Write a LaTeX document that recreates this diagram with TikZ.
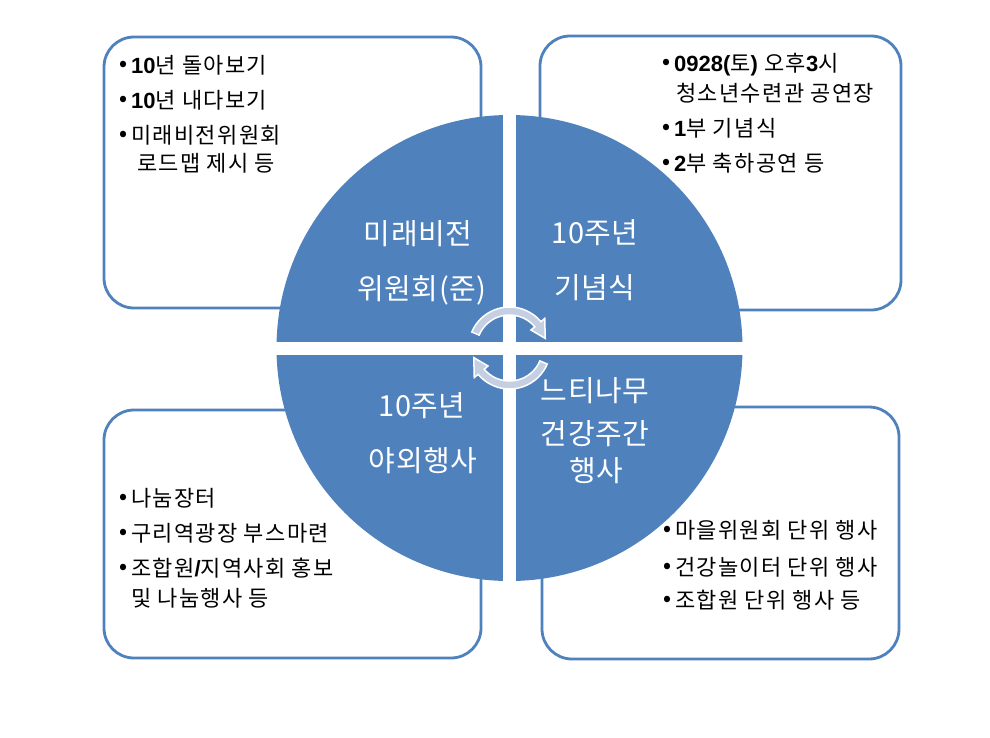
\documentclass[tikz,border=0pt]{standalone}
\usepackage{fontspec}
\newfontfamily\kr{Noto Sans CJK KR}[LetterSpace=6]
\newfontfamily\krq{Noto Sans CJK KR}[LetterSpace=2]
\newfontfamily\numf{Liberation Sans}
\newcommand\dg[1]{{\numf\bfseries #1}}
\definecolor{blu}{RGB}{79,129,189}
\definecolor{arrowfill}{RGB}{196,207,226}
\begin{document}
\begin{tikzpicture}[x=1pt,y=-1pt,
  box/.style={draw=blu, line width=2.8pt, rounded corners=30pt, fill=white, inner sep=0pt},
  item/.style={anchor=west, inner sep=0pt, text height=18.5pt, text depth=2pt, font=\kr\fontsize{22}{26}\selectfont},
  bul/.style={anchor=center, inner sep=0pt, font=\kr\bfseries\fontsize{20}{22}\selectfont},
  qlabel/.style={anchor=center, inner sep=0pt, text height=25pt, text depth=3pt, text=white, font=\krq\fontsize{29}{32}\selectfont},
  cyc/.style={fill=arrowfill, draw=white, line width=1.5pt, line join=miter}]
\fill[white] (0,0) rectangle (990,737);
\useasboundingbox (0,0) rectangle (990,737);

% boxes
\node[box, minimum width=377pt, minimum height=271pt] (tl) at (292.5,172.5) {};
\node[box, minimum width=361pt, minimum height=274pt] (tr) at (720.5,173) {};
\node[box, minimum width=377pt, minimum height=248pt] (bl) at (292.5,534) {};
\node[box, minimum width=357pt, minimum height=252pt] (br) at (720.5,533) {};

% circle quadrants
\coordinate (c) at (509.5,348);
\begin{scope}
  \clip (c) circle (233);
  \fill[blu] (270,100) rectangle (503,342);
  \fill[blu] (516,100) rectangle (750,342);
  \fill[blu] (270,355) rectangle (503,590);
  \fill[blu] (516,355) rectangle (750,590);
\end{scope}

% cycle arrows
\draw[cyc] ([shift={(c)}]203:41) arc[start angle=203, end angle=320, radius=41]
  -- ([shift={(c)}]320:46) -- ([shift={(c)}]345:37) -- ([shift={(c)}]320:28)
  -- ([shift={(c)}]320:33) arc[start angle=320, end angle=203, radius=33] -- cycle;
\draw[cyc] ([shift={(c)}]23:41) arc[start angle=23, end angle=140, radius=41]
  -- ([shift={(c)}]140:46) -- ([shift={(c)}]165:37) -- ([shift={(c)}]140:28)
  -- ([shift={(c)}]140:33) arc[start angle=140, end angle=23, radius=33] -- cycle;

% quadrant labels
\node[qlabel] (q1a) at (418,233) {미래비전};
\node[qlabel] (q1b) at (422,288) {위원회(준)};
\node[qlabel] (q2a) at (595,232) {10주년};
\node[qlabel] (q2b) at (595,287) {기념식};
\node[qlabel] (q3a) at (422,405) {10주년};
\node[qlabel] (q3b) at (423,460) {야외행사};
\node[qlabel] (q4a) at (595,390) {느티나무};
\node[qlabel] (q4b) at (595,433) {건강주간};
\node[qlabel] (q4c) at (596,470) {행사};

% top-left box text
\node[bul] (tlb1) at (123,66) {•};
\node[item] (tl1) at (131,65) {\dg{10}년 돌아보기};
\node[bul] (tlb2) at (123,101) {•};
\node[item] (tl2) at (131,100) {\dg{10}년 내다보기};
\node[bul] (tlb3) at (123,136) {•};
\node[item] (tl3) at (131,135) {미래비전위원회};
\node[item] (tl4) at (137,163) {로드맵 제시 등};

% top-right box text
\node[bul] (trb1) at (666,64) {•};
\node[item] (tr1) at (674,63) {\dg{0928(}토\dg{)} 오후\dg{3}시};
\node[item] (tr2) at (676,93) {청소년수련관 공연장};
\node[bul] (trb2) at (666,129) {•};
\node[item] (tr3) at (674,128) {\dg{1}부 기념식};
\node[bul] (trb3) at (666,164) {•};
\node[item] (tr4) at (674,163) {\dg{2}부 축하공연 등};

% bottom-left box text
\node[bul] (blb1) at (123,499) {•};
\node[item] (bl1) at (131,498) {나눔장터};
\node[bul] (blb2) at (123,534) {•};
\node[item] (bl2) at (131,533) {구리역광장 부스마련};
\node[bul] (blb3) at (123,569) {•};
\node[item] (bl3) at (131,568) {조합원\dg{/}지역사회 홍보};
\node[item] (bl4) at (131,598) {및 나눔행사 등};

% bottom-right box text
\node[bul] (brb1) at (667,531) {•};
\node[item] (br1) at (675,530) {마을위원회 단위 행사};
\node[bul] (brb2) at (667,568) {•};
\node[item] (br2) at (675,567) {건강놀이터 단위 행사};
\node[bul] (brb3) at (667,601) {•};
\node[item] (br3) at (675,600) {조합원 단위 행사 등};
\end{tikzpicture}
\end{document}
